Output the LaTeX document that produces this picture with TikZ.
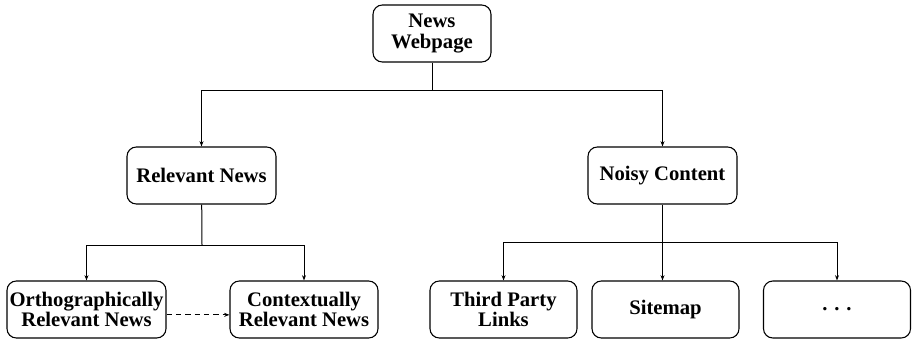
\documentclass[tikz,border=0pt]{standalone}
\usepackage{fontspec}
\setmainfont{Liberation Serif}
\usetikzlibrary{arrows.meta}
\begin{document}
\begin{tikzpicture}[x=0.75pt,y=-0.75pt,
  box/.style={draw,line width=0.8pt,rounded corners=7pt,inner sep=0pt,align=center,
    font=\fontsize{15.5}{15.5}\selectfont\bfseries,minimum height=42.75pt},
  arr/.style={line width=0.75pt,-{Stealth[length=4pt,width=3pt]}},
  ln/.style={line width=0.75pt}]
\useasboundingbox (0,0) rectangle (912,340);
\node[box,minimum width=88.5pt] (top) at (432,33.5) {News\\Webpage};
\node[box,minimum width=111.75pt] (rel) at (201.5,175.5) {Relevant News};
\node[box,minimum width=111.75pt] (noisy) at (662.5,175.5) {Noisy Content};
\node[box,minimum width=119.25pt] (ortho) at (86.5,309.5) {Orthographically\\Relevant News};
\node[box,minimum width=111pt] (ctx) at (304,309.5) {Contextually\\Relevant News};
\node[box,minimum width=110.25pt] (third) at (503.5,309.5) {Third Party\\Links};
\node[box,minimum width=110.25pt] (site) at (665.5,309.5) {Sitemap};
\node[box,minimum width=110.25pt] (dots) at (837,309.5) {.\,\,.\,\,.};
\coordinate (j1) at (432,90);
\coordinate (j2) at (202,245);
\coordinate (j3) at (662.5,242);
\draw[ln] (top) -- (j1);
\draw[arr] (j1) -| (rel);
\draw[arr] (j1) -| (noisy);
\draw[ln] (rel) -- (j2);
\draw[arr] (j2) -| (ortho);
\draw[arr] (j2) -| (ctx);
\draw[ln] (noisy) -- (j3);
\draw[arr] (j3) -| (third);
\draw[arr] (j3) -- (j3 |- site.north);
\draw[arr] (j3) -| (dots);
\draw[arr,dashed,dash pattern=on 4pt off 3pt] ([yshift=-4pt]ortho.east) -- ([yshift=-4pt]ctx.west);
\end{tikzpicture}
\end{document}
